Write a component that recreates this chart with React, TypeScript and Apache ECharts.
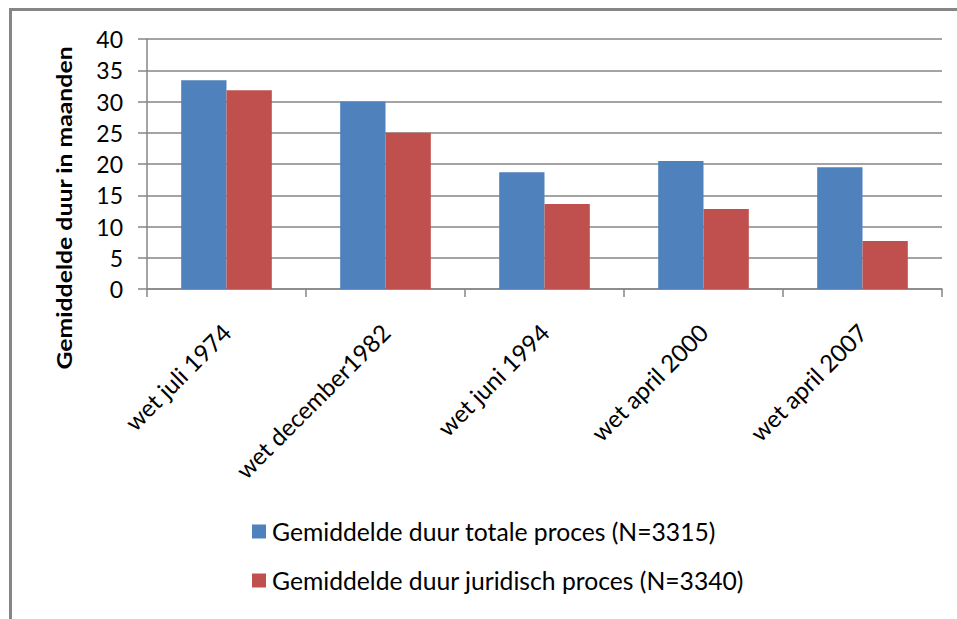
import React, { useEffect, useRef } from "react";
import * as echarts from "echarts";

const categories = ["wet juli 1974", "wet december1982", "wet juni 1994", "wet april 2000", "wet april 2007"];
const totaleProces = [33.4, 30.0, 18.7, 20.5, 19.5];
const juridischProces = [31.8, 25.0, 13.6, 12.8, 7.7];
const seriesNames = ["Gemiddelde duur totale proces (N=3315)", "Gemiddelde duur juridisch proces (N=3340)"];
const yAxisTitle = "Gemiddelde duur in maanden";

const FONT = "Lato, 'Open Sans', sans-serif";
const GRAY = "#868686";

export default function App() {
  const ref = useRef<HTMLDivElement>(null);
  useEffect(() => {
    if (!ref.current) return;
    const chart = echarts.init(ref.current, null, { renderer: "svg" });
    chart.setOption({
      animation: false,
      backgroundColor: "#ffffff",
      textStyle: { fontFamily: FONT },
      graphic: [
        {
          type: "polyline",
          shape: { points: [[10.5, 640], [10.5, 9.5], [970, 9.5]] },
          style: { stroke: GRAY, lineWidth: 3, fill: "none" },
          silent: true,
        },
        {
          type: "text",
          x: 64,
          y: 208,
          rotation: Math.PI / 2,
          scaleX: 1.24,
          style: {
            text: yAxisTitle,
            align: "center",
            verticalAlign: "middle",
            fontFamily: FONT,
            fontSize: 20,
            fontWeight: "bold",
            fill: "#000",
          },
          silent: true,
        },
      ],
      grid: { left: 147, right: 15, top: 39, bottom: 330, containLabel: false },
      legend: {
        orient: "vertical",
        left: 247,
        top: 514,
        itemWidth: 14,
        itemHeight: 14,
        itemGap: 24,
        icon: "rect",
        textStyle: { fontFamily: FONT, fontSize: 24.7, color: "#000", padding: [0, 0, 0, 1] },
        data: seriesNames,
      },
      xAxis: {
        type: "category",
        data: categories,
        axisLine: { show: true, lineStyle: { color: GRAY, width: 1.5 } },
        axisTick: { show: true, alignWithLabel: false, length: 8, lineStyle: { color: GRAY, width: 1.5 } },
        axisLabel: { rotate: 45, fontFamily: FONT, fontSize: 24, color: "#000", margin: 39, interval: 0 },
      },
      yAxis: {
        type: "value",
        min: 0,
        max: 40,
        interval: 5,
        axisLine: { show: true, lineStyle: { color: GRAY, width: 1.5 } },
        axisTick: { show: true, length: 9, lineStyle: { color: GRAY, width: 1.5 } },
        axisLabel: { fontFamily: FONT, fontSize: 23, color: "#000", margin: 24 },
        splitLine: { show: true, lineStyle: { color: GRAY, width: 1.5 } },
      },
      series: [
        {
          name: seriesNames[0],
          type: "bar",
          data: totaleProces,
          itemStyle: { color: "#4F81BD" },
          barGap: "0%",
          barCategoryGap: "43%",
        },
        {
          name: seriesNames[1],
          type: "bar",
          data: juridischProces,
          itemStyle: { color: "#C0504D" },
          barGap: "0%",
          barCategoryGap: "43%",
        },
      ],
    });
    return () => chart.dispose();
  }, []);
  return (
    <div
      ref={ref}
      style={{ position: "fixed", left: 0, top: 0, width: 957, height: 619 }}
    />
  );
}
